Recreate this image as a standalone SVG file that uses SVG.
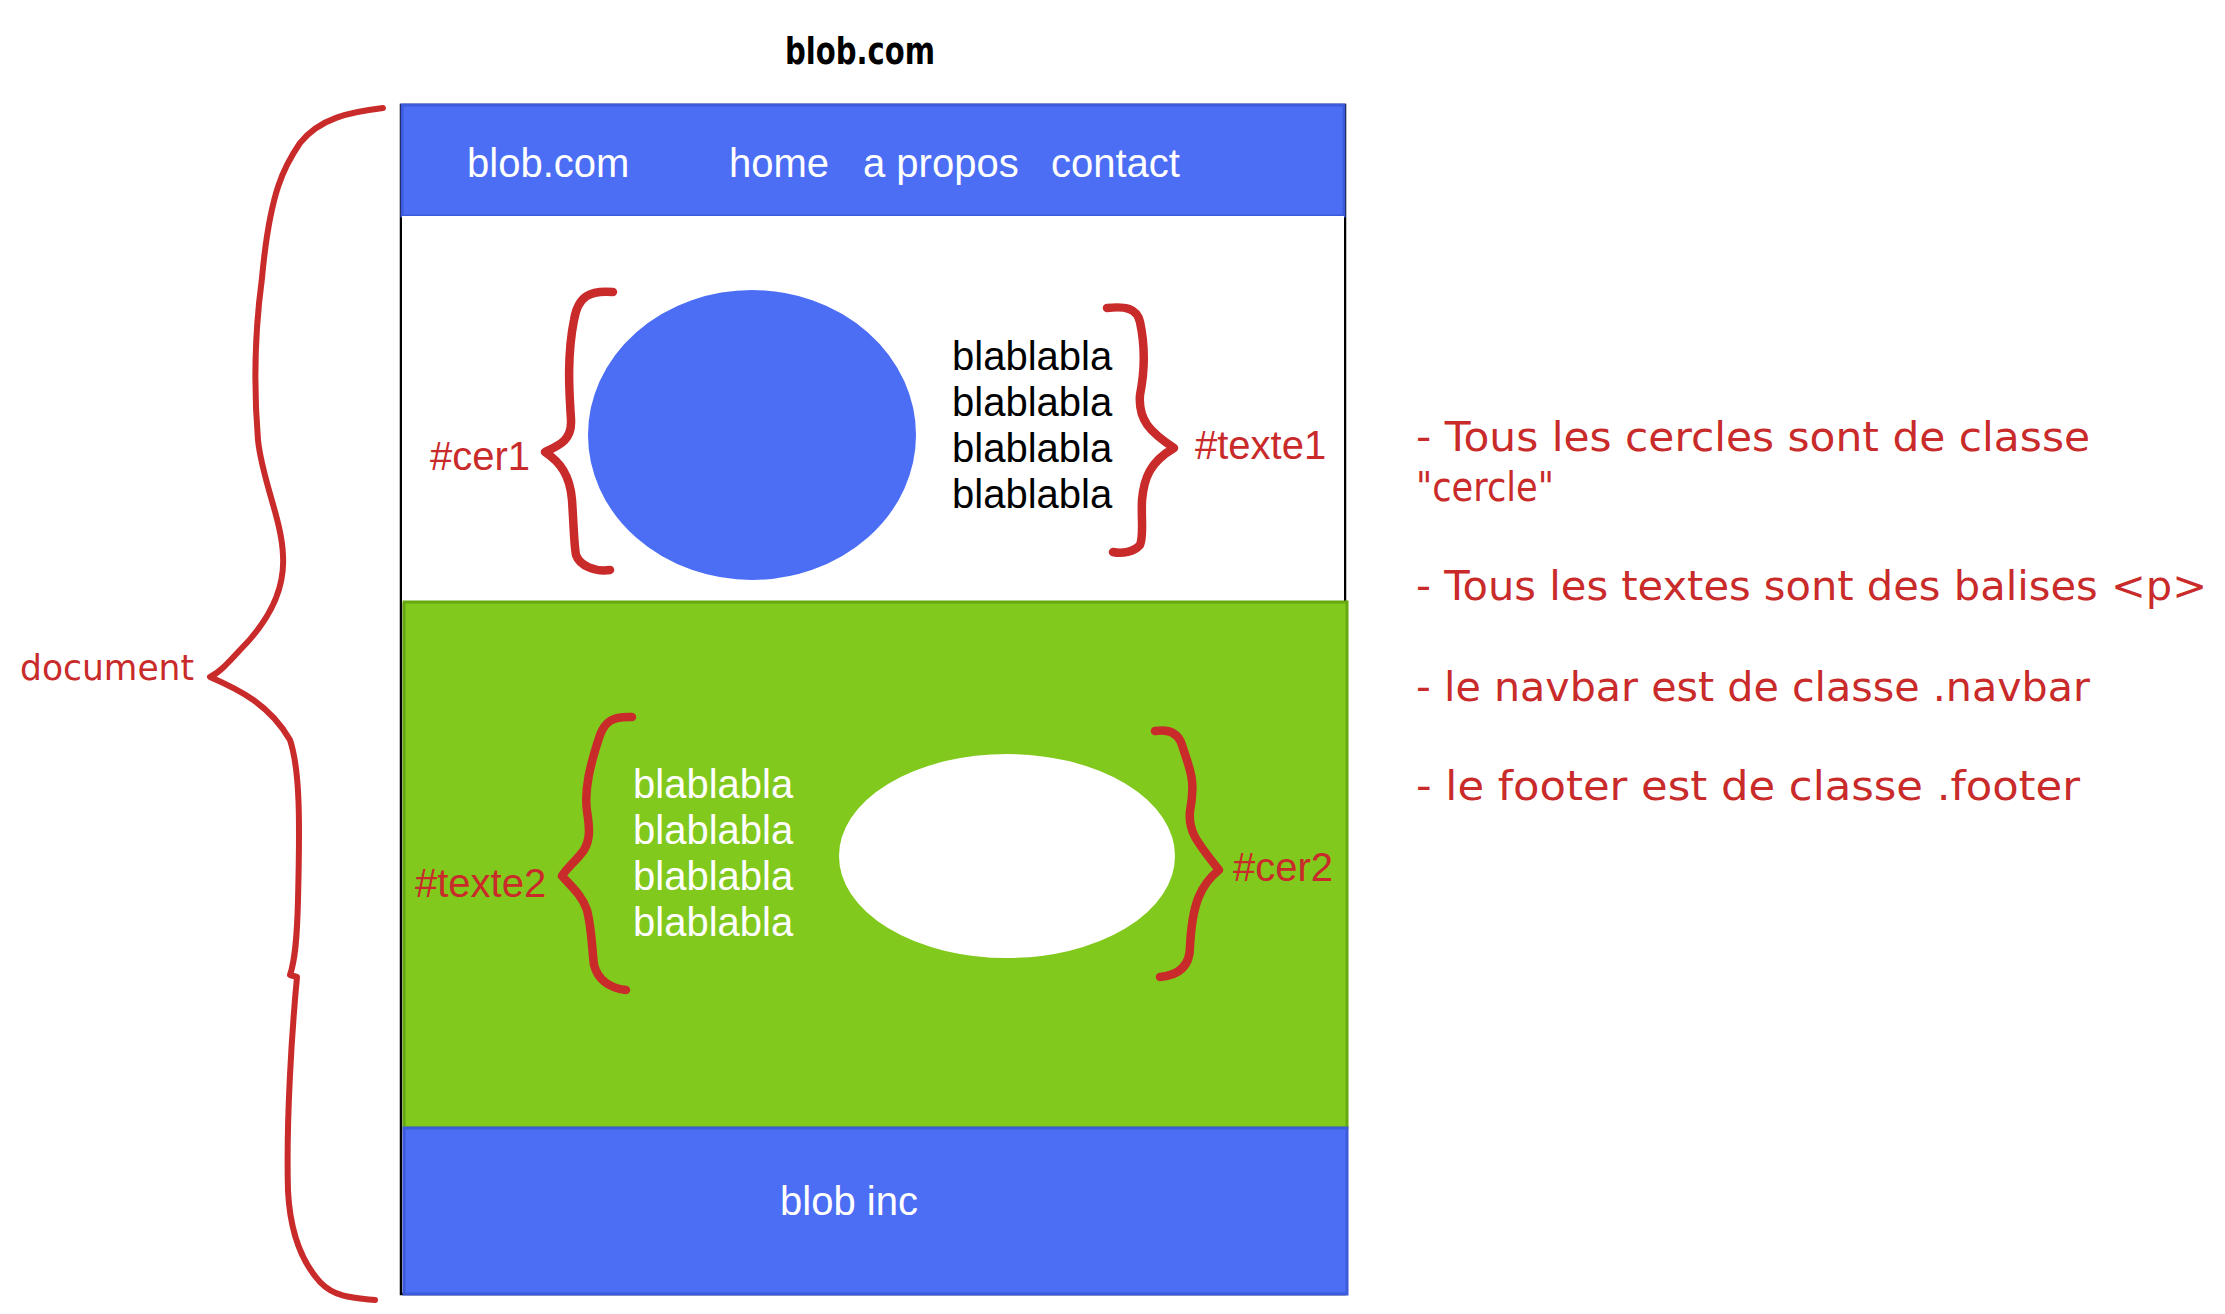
<svg xmlns="http://www.w3.org/2000/svg" width="2225" height="1314" viewBox="0 0 2225 1314">
<style>
.hand{font-family:"DejaVu Sans","Liberation Sans",sans-serif;}
.helv{font-family:"Liberation Sans",Arial,sans-serif;font-size:40px;}
.wt{fill:#ffffff;}
.bk{fill:#000000;}
.rd{fill:#c92a2a;}
.brace{fill:none;stroke:#c92a2a;stroke-width:8.5;stroke-linecap:round;stroke-linejoin:round;}
.blue{fill:#4c6ef5;stroke:#3b5bdb;stroke-width:3;}
</style>
<rect x="0" y="0" width="2225" height="1314" fill="#ffffff"/>

<g id="title">
<text class="hand bk" x="785" y="64" font-size="38" font-weight="bold" textLength="150" lengthAdjust="spacingAndGlyphs">blob.com</text>
</g>

<g id="page">
<rect x="401" y="105" width="944" height="1189" fill="#ffffff" stroke="#000000" stroke-width="2.5"/>
</g>

<g id="navbar">
<rect class="blue" x="402" y="105" width="942" height="111"/>
<text class="helv wt" x="467" y="177">blob.com</text>
<text class="helv wt" x="729" y="177">home</text>
<text class="helv wt" x="863" y="177">a propos</text>
<text class="helv wt" x="1051" y="177">contact</text>
</g>

<g id="section1">
<rect x="402" y="216" width="942" height="387" fill="#ffffff"/>
</g>

<g id="cer1">
<ellipse cx="752" cy="435" rx="163" ry="144" fill="#4c6ef5" stroke="#4c6ef5" stroke-width="2"/>
</g>

<g id="texte1">
<text class="helv bk" x="952" y="370">blablabla</text>
<text class="helv bk" x="952" y="416">blablabla</text>
<text class="helv bk" x="952" y="462">blablabla</text>
<text class="helv bk" x="952" y="508">blablabla</text>
</g>

<g id="section2">
<rect x="404" y="602" width="943" height="526" fill="#82c91e" stroke="#66a80f" stroke-width="3"/>
</g>

<g id="texte2">
<text class="helv wt" x="633" y="798">blablabla</text>
<text class="helv wt" x="633" y="844">blablabla</text>
<text class="helv wt" x="633" y="890">blablabla</text>
<text class="helv wt" x="633" y="936">blablabla</text>
</g>

<g id="cer2">
<ellipse cx="1007" cy="856" rx="167" ry="101" fill="#ffffff" stroke="#ffffff" stroke-width="2"/>
</g>

<g id="footer">
<rect class="blue" x="404" y="1128" width="943" height="166"/>
<text class="helv wt" x="849" y="1215" text-anchor="middle">blob inc</text>
</g>

<g id="labels">
<text class="helv rd" x="430" y="470">#cer1</text>
<text class="helv rd" x="1195" y="459">#texte1</text>
<text class="helv rd" x="415" y="897">#texte2</text>
<text class="helv rd" x="1233" y="881">#cer2</text>
<text class="hand rd" x="20" y="680" font-size="36" textLength="174" lengthAdjust="spacingAndGlyphs">document</text>
</g>

<g id="notes">
<text class="hand rd" x="1416" y="451" font-size="40" textLength="674" lengthAdjust="spacingAndGlyphs">- Tous les cercles sont de classe</text>
<text class="hand rd" x="1416" y="501" font-size="40" textLength="138" lengthAdjust="spacingAndGlyphs">"cercle"</text>
<text class="hand rd" x="1416" y="600" font-size="40" textLength="791" lengthAdjust="spacingAndGlyphs">- Tous les textes sont des balises &lt;p&gt;</text>
<text class="hand rd" x="1416" y="701" font-size="40" textLength="674" lengthAdjust="spacingAndGlyphs">- le navbar est de classe .navbar</text>
<text class="hand rd" x="1416" y="800" font-size="40" textLength="664" lengthAdjust="spacingAndGlyphs">- le footer est de classe .footer</text>
</g>

<g id="connectors">
<path class="brace" d="M613,292 C590,290 578,296 574,320 C566,360 570,400 571,420 C572,440 560,445 545,452 C560,462 570,475 572,500 C574,530 574,545 576,555 C580,566 595,572 610,570"/>
<path class="brace" d="M1107,308 C1125,306 1137,308 1140,322 C1146,350 1144,375 1140,395 C1138,420 1150,432 1174,448 C1150,462 1144,478 1142,500 C1141,520 1144,535 1140,545 C1134,552 1122,554 1113,552"/>
<path class="brace" d="M632,717 C612,716 605,722 600,735 C590,765 584,790 587,811 C590,830 590,840 584,850 C577,860 565,870 562,876 C570,885 582,895 587,910 C592,930 592,950 594,965 C598,980 610,988 626,990"/>
<path class="brace" d="M1155,731 C1168,729 1178,732 1182,745 C1190,770 1196,780 1190,811 C1188,830 1195,840 1219,870 C1200,885 1192,905 1190,947 C1190,965 1180,975 1160,977"/>
<path class="brace" style="stroke-width:6" d="M383,108 C350,112 320,118 300,143 C285,165 270,190 262,278 C255,330 253,380 258,440 C262,480 282,520 283,556 C285,590 270,620 240,650 C228,663 220,672 210,677 C240,690 270,705 290,740 C300,770 300,820 298,900 C297,940 295,960 290,975 L297,977 C292,1030 286,1120 288,1191 C290,1230 300,1260 320,1282 C335,1298 355,1298 375,1300"/>
</g>
</svg>
